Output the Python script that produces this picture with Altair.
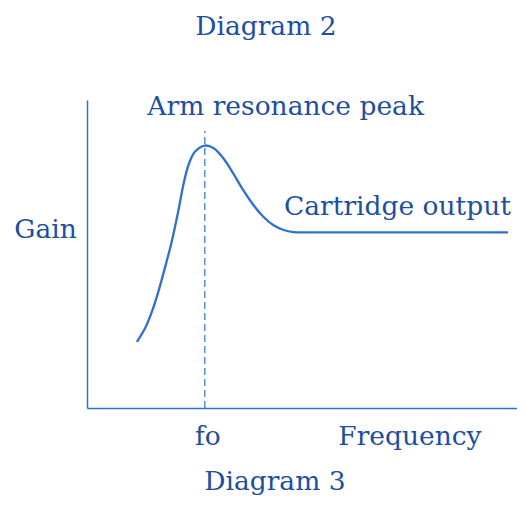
import altair as alt
import pandas as pd

# Response curve (frequency units 0-100, gain units 0-100)
curve_freq = [11.6, 13.5, 15.1, 16.6, 18.1, 19.7, 21.2, 22.4, 23.6, 25.1, 27.4,
              29.4, 31.7, 34.0, 36.3, 38.7, 41.0, 43.3, 45.7, 48.0, 51.1, 70.0, 97.9]
curve_gain = [21.5, 25.9, 31.3, 37.8, 45.4, 54.0, 63.7, 72.4, 78.9, 83.2, 85.2,
              84.4, 81.1, 76.2, 70.8, 65.9, 62.1, 59.4, 57.8, 57.1, 57.0, 57.0, 57.0]

# Resonance frequency marker
fo_freq = 27.4
fo_top = 90.0

# Labels
label_text = ["Diagram 2", "Arm resonance peak", "Cartridge output", "Gain", "fo", "Frequency", "Diagram 3"]
label_x = [41.6, 46.2, 72.2, -9.65, 28.1, 75.1, 43.7]
label_y = [121.1, 95.1, 62.7, 55.2, -12.0, -12.0, -26.6]

TEXT_COLOR = "#1d4f9f"
LINE_COLOR = "#2f6fcf"
FONT = "DejaVu Serif"

xs = alt.Scale(domain=[0, 100], nice=False, zero=False)
ys = alt.Scale(domain=[0, 100], nice=False, zero=False)

curve_df = pd.DataFrame({"f": curve_freq, "g": curve_gain, "o": list(range(len(curve_freq)))})
fo_df = pd.DataFrame({"f": [fo_freq], "g0": [0.0], "g1": [fo_top]})
lab_df = pd.DataFrame({"t": label_text, "x": label_x, "y": label_y})

axis_x = alt.Axis(domainColor=LINE_COLOR, domainWidth=1.5, ticks=False, labels=False, grid=False, title=None)
axis_y = alt.Axis(domainColor=LINE_COLOR, domainWidth=1.5, ticks=False, labels=False, grid=False, title=None)

curve = alt.Chart(curve_df).mark_line(color=LINE_COLOR, strokeWidth=2.3, interpolate="catmull-rom").encode(
    x=alt.X("f:Q", scale=xs, axis=axis_x),
    y=alt.Y("g:Q", scale=ys, axis=axis_y),
    order="o:Q",
)

fo_line = alt.Chart(fo_df).mark_rule(color=LINE_COLOR, strokeWidth=1.2, strokeDash=[7, 4]).encode(
    x=alt.X("f:Q", scale=xs),
    y=alt.Y("g0:Q", scale=ys),
    y2="g1:Q",
)

labels = alt.Chart(lab_df).mark_text(
    color=TEXT_COLOR, font=FONT, fontSize=26.5, align="center", baseline="alphabetic"
).encode(
    x=alt.X("x:Q", scale=xs),
    y=alt.Y("y:Q", scale=ys),
    text="t:N",
)

chart = alt.layer(curve, fo_line, labels).properties(
    width=430,
    height=308,
    autosize=alt.AutoSizeParams(type="none"),
    padding={"left": 79, "top": 92, "right": 0, "bottom": 90},
).configure_view(stroke=None)

chart.save("out.html", embed_options={"renderer": "svg", "actions": False})
